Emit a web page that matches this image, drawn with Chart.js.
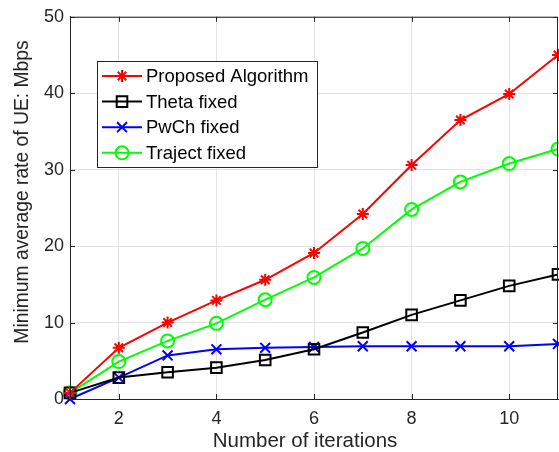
<!DOCTYPE html>
<html>
<head>
<meta charset="utf-8">
<script src="https://cdn.jsdelivr.net/npm/chart.js@4.4.1/dist/chart.umd.min.js"></script>
<style>
  html, body { margin: 0; padding: 0; background: #fff; overflow: hidden; }
  canvas { display: block; }
</style>
</head>
<body>
<canvas id="rateChart" width="559" height="452"></canvas>
<script>
// data
const iterations = [1, 2, 3, 4, 5, 6, 7, 8, 9, 10, 11];
const proposed = [0.8, 6.7, 10.0, 12.9, 15.6, 19.1, 24.2, 30.6, 36.5, 39.9, 45.0];
const thetaFixed = [0.8, 2.8, 3.5, 4.1, 5.1, 6.5, 8.7, 11.0, 12.9, 14.8, 16.3];
const pwchFixed = [0.0, 2.8, 5.7, 6.5, 6.7, 6.8, 6.9, 6.9, 6.9, 6.9, 7.2];
const trajectFixed = [0.8, 4.9, 7.6, 9.9, 13.0, 15.9, 19.7, 24.8, 28.4, 30.8, 32.7];
const xTicks = [2, 4, 6, 8, 10];
const yTicks = [0, 10, 20, 30, 40, 50];
const xTitle = 'Number of iterations';
const yTitle = 'Minimum average rate of UE: Mbps';

const FONT = 'Liberation Sans, Arial, Helvetica, sans-serif';
const AXIS = '#262626';

function pts(ys) {
  return iterations.map((x, i) => ({ x: x, y: ys[i] }));
}

function series(label, ys, color, style, radius) {
  return {
    label: label,
    data: pts(ys),
    borderColor: color,
    backgroundColor: 'rgba(0,0,0,0)',
    pointBorderColor: color,
    pointBackgroundColor: 'rgba(0,0,0,0)',
    pointStyle: style,
    pointRadius: radius,
    pointBorderWidth: 2,
    borderWidth: 2,
    tension: 0,
    clip: false
  };
}

// MATLAB-like legend box inside the axes
const boxLegend = {
  id: 'boxLegend',
  afterDraw(chart) {
    const c = chart.ctx;
    const x0 = 97, y0 = 61, w = 220, h = 106;
    c.save();
    c.fillStyle = '#fff';
    c.fillRect(x0, y0, w, h);
    c.strokeStyle = AXIS;
    c.lineWidth = 1;
    c.strokeRect(x0 + 0.5, y0 + 0.5, w, h);
    chart.data.datasets.forEach((ds, i) => {
      const y = 76 + i * 25.6;
      c.strokeStyle = ds.borderColor;
      c.lineWidth = 2;
      c.beginPath();
      c.moveTo(102, y);
      c.lineTo(142, y);
      c.stroke();
      c.fillStyle = 'rgba(0,0,0,0)';
      Chart.helpers.drawPoint(c, {
        pointStyle: ds.pointStyle,
        radius: ds.pointRadius,
        rotation: 0,
        borderWidth: 2
      }, 122, y);
      c.fillStyle = '#000';
      c.font = '18.5px ' + FONT;
      c.textBaseline = 'middle';
      c.fillText(ds.label, 146, y + 1);
    });
    c.restore();
  },
};

// inward tick marks, box and axis titles
const frame = {
  id: 'frame',
  afterDatasetsDraw(chart) {
    const c = chart.ctx, a = chart.chartArea;
    const xs = chart.scales.x, ys = chart.scales.y;
    c.save();
    c.strokeStyle = AXIS;
    c.lineWidth = 1;
    c.beginPath();
    xTicks.forEach(v => {
      const px = Math.round(xs.getPixelForValue(v)) + 0.5;
      c.moveTo(px, a.bottom); c.lineTo(px, a.bottom - 5);
      c.moveTo(px, a.top); c.lineTo(px, a.top + 5);
    });
    yTicks.forEach(v => {
      const py = Math.round(ys.getPixelForValue(v)) + 0.5;
      c.moveTo(a.left, py); c.lineTo(a.left + 5, py);
      c.moveTo(a.right, py); c.lineTo(a.right - 5, py);
    });
    c.stroke();
    c.strokeRect(a.left + 0.5, a.top + 0.5, a.right - a.left - 1, a.bottom - a.top);

    c.fillStyle = AXIS;
    c.textAlign = 'center';
    c.textBaseline = 'middle';
    c.font = '20.5px ' + FONT;
    c.fillText(xTitle, 305, 441);
    c.translate(23, 192);
    c.rotate(-Math.PI / 2);
    c.font = '19.3px ' + FONT;
    c.fillText(yTitle, 0, 0);
    c.restore();
  }
};

const ctx = document.getElementById('rateChart').getContext('2d');
new Chart(ctx, {
  type: 'line',
  data: {
    datasets: [
      series('Proposed Algorithm', proposed, '#ff0000', 'star', 6),
      series('Theta fixed', thetaFixed, '#000000', 'rect', 7.5),
      series('PwCh fixed', pwchFixed, '#0000ff', 'crossRot', 7),
      series('Traject fixed', trajectFixed, '#00ff00', 'circle', 6.5)
    ]
  },
  options: {
    responsive: false,
    animation: false,
    devicePixelRatio: 1,
    layout: { padding: { top: 15, right: 0, left: 0, bottom: 0 } },
    plugins: {
      legend: { display: false },
      tooltip: { enabled: false }
    },
    scales: {
      x: {
        type: 'linear',
        min: 1,
        max: 11,
        afterBuildTicks: (s) => { s.ticks = xTicks.map(v => ({ value: v })); },
        afterFit: (s) => { s.height = 53; },
        grid: { color: '#e3e3e3', drawTicks: false },
        border: { color: AXIS },
        ticks: { color: AXIS, font: { family: FONT, size: 18 }, padding: 9, maxRotation: 0 }
      },
      y: {
        min: 0,
        max: 50,
        afterBuildTicks: (s) => { s.ticks = yTicks.map(v => ({ value: v })); },
        afterFit: (s) => { s.width = 70; },
        grid: { color: '#e3e3e3', drawTicks: false },
        border: { color: AXIS },
        ticks: { color: AXIS, font: { family: FONT, size: 18 }, padding: 6 }
      }
    }
  },
  plugins: [frame, boxLegend, {
    id: 'fixArea',
    // MATLAB axes run to the right edge of the figure; pin the plot box there
    afterLayout(chart) {
      const a = chart.chartArea;
      a.right = 558;
      a.width = a.right - a.left;
      const xs = chart.scales.x;
      xs.right = 558;
      xs.width = xs.right - xs.left;
      xs.configure();
    }
  }]
});
</script>
</body>
</html>
